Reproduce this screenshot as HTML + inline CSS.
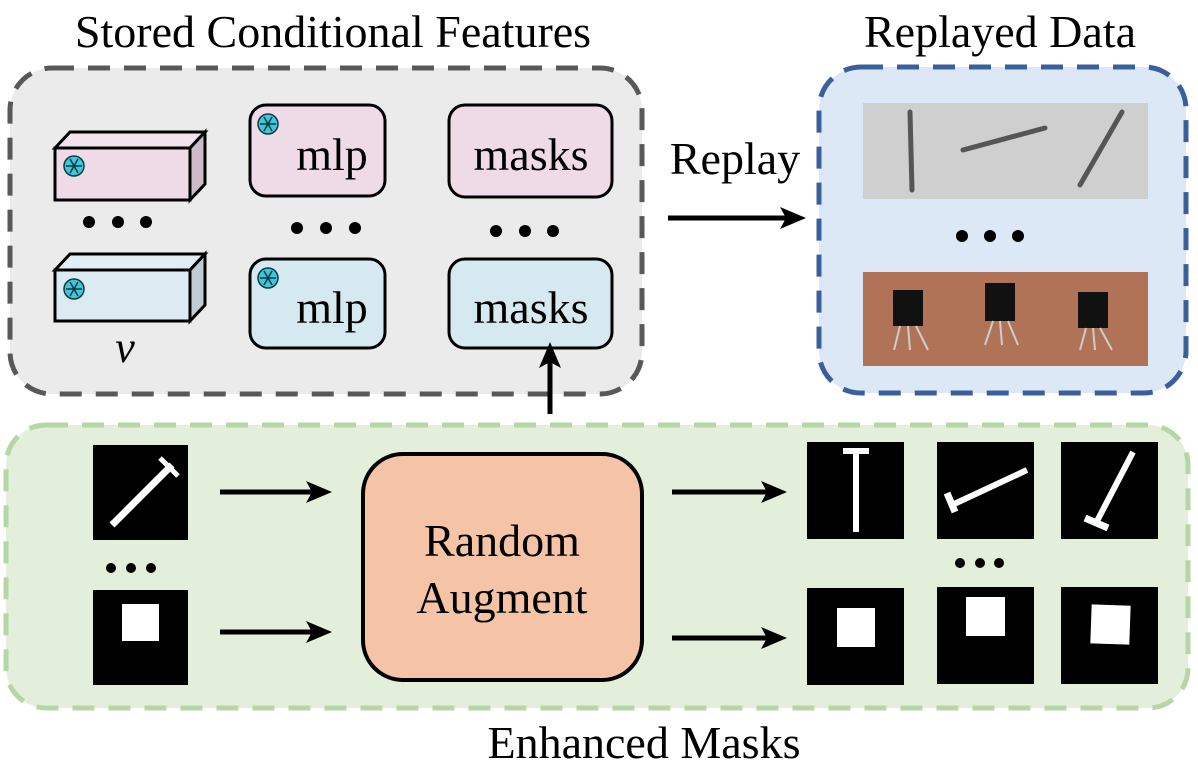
<!DOCTYPE html>
<html><head><meta charset="utf-8"><style>
html,body{margin:0;padding:0;background:#fff;}
svg{display:block;}
text{font-family:"Liberation Serif",serif;fill:#000;}
</style></head><body>
<svg width="1198" height="768" viewBox="0 0 1198 768" xmlns="http://www.w3.org/2000/svg">
<defs>
<marker id="ah" markerWidth="26" markerHeight="22" refX="20" refY="11" orient="auto" markerUnits="userSpaceOnUse">
<path d="M0,0 L26,11 L0,22 L6,11 Z" fill="#000"/></marker>
<g id="snow">
<circle r="10" fill="#3fc6d8" stroke="#0a3a44" stroke-width="1.5"/>
<g stroke="#0a3a44" stroke-width="1.5"><line x1="-8" y1="0" x2="8" y2="0"/><line x1="-4" y1="-7" x2="4" y2="7"/><line x1="4" y1="-7" x2="-4" y2="7"/></g>
</g>
</defs>
<!-- titles -->
<text x="333" y="47" font-size="46" text-anchor="middle">Stored Conditional Features</text>
<text x="1000" y="47" font-size="46" text-anchor="middle">Replayed Data</text>
<text x="644" y="758" font-size="46" text-anchor="middle">Enhanced Masks</text>

<!-- gray box -->
<rect x="10" y="68" width="632" height="326" rx="42" fill="#ecebeb" stroke="#585858" stroke-width="5" stroke-dasharray="22 14"/>
<!-- cubes -->
<g stroke="#000" stroke-width="3">
<polygon points="55,148 70,132 205,132 190,148" fill="#f3e3ee"/>
<polygon points="190,148 205,132 205,184 190,200" fill="#cdbcc8"/>
<rect x="55" y="148" width="135" height="52" fill="#efdbe8"/>
<polygon points="55,270 70,254 205,254 190,270" fill="#e2eef4"/>
<polygon points="190,270 205,254 205,305 190,321" fill="#c0ccd2"/>
<rect x="55" y="270" width="135" height="51" fill="#dcebf2"/>
</g>
<use href="#snow" x="74" y="166"/>
<use href="#snow" x="74" y="289"/>
<text x="125" y="362" font-size="44" font-style="italic" text-anchor="middle">v</text>
<!-- mlp / masks -->
<g stroke="#000" stroke-width="3">
<rect x="250" y="105" width="135" height="91" rx="16" fill="#efdbe8"/>
<rect x="250" y="259" width="135" height="89" rx="16" fill="#d6e9f1"/>
<rect x="449" y="105" width="163" height="92" rx="16" fill="#efdbe8"/>
<rect x="449" y="259" width="163" height="89" rx="16" fill="#d6e9f1"/>
</g>
<use href="#snow" x="268" y="124"/>
<use href="#snow" x="268" y="278"/>
<text x="332" y="170" font-size="46" text-anchor="middle">mlp</text>
<text x="332" y="323" font-size="46" text-anchor="middle">mlp</text>
<text x="531" y="170" font-size="46" text-anchor="middle">masks</text>
<text x="531" y="323" font-size="46" text-anchor="middle">masks</text>
<g fill="#000">
<circle cx="89" cy="222" r="6"/><circle cx="118" cy="222" r="6"/><circle cx="146" cy="222" r="6"/>
<circle cx="297" cy="228" r="6"/><circle cx="326" cy="228" r="6"/><circle cx="355" cy="228" r="6"/>
<circle cx="496" cy="231" r="6"/><circle cx="525" cy="231" r="6"/><circle cx="553" cy="231" r="6"/>
</g>
<!-- replay -->
<text x="735" y="174" font-size="46" text-anchor="middle">Replay</text>
<line x1="668" y1="218" x2="800" y2="218" stroke="#000" stroke-width="5" marker-end="url(#ah)"/>
<!-- blue box -->
<rect x="819" y="67" width="367" height="326" rx="42" fill="#dce8f5" stroke="#3a5f9a" stroke-width="5" stroke-dasharray="22 14"/>
<rect x="863" y="103" width="285" height="96" fill="#cfcfcf"/>
<g stroke="#555" stroke-width="5" stroke-linecap="round">
<line x1="910" y1="112" x2="912" y2="190"/><line x1="963" y1="150" x2="1045" y2="128"/><line x1="1080" y1="185" x2="1122" y2="112"/>
</g>
<g fill="#000"><circle cx="962" cy="236" r="6"/><circle cx="990" cy="236" r="6"/><circle cx="1018" cy="236" r="6"/></g>
<rect x="863" y="272" width="285" height="94" fill="#b07358"/>
<g fill="#111"><rect x="893" y="290" width="30" height="36"/><rect x="985" y="283" width="30" height="38"/><rect x="1078" y="292" width="30" height="36"/></g>
<g stroke="#ccc" stroke-width="2"><line x1="900" y1="326" x2="894" y2="350"/><line x1="908" y1="326" x2="910" y2="350"/><line x1="916" y1="326" x2="928" y2="350"/><line x1="993" y1="321" x2="985" y2="345"/><line x1="1000" y1="321" x2="1002" y2="345"/><line x1="1008" y1="321" x2="1018" y2="345"/><line x1="1086" y1="328" x2="1080" y2="350"/><line x1="1093" y1="328" x2="1095" y2="350"/><line x1="1100" y1="328" x2="1112" y2="350"/></g>
<!-- green box -->
<rect x="6" y="425" width="1182" height="283" rx="40" fill="#e3efdb" stroke="#b7d6a6" stroke-width="5" stroke-dasharray="22 14"/>
<line x1="550" y1="414" x2="550" y2="348" stroke="#000" stroke-width="5" marker-end="url(#ah)"/>
<!-- left masks -->
<rect x="93" y="445" width="95" height="95" fill="#000"/>
<line x1="112" y1="525" x2="172" y2="465" stroke="#fff" stroke-width="7"/>
<line x1="160" y1="458" x2="178" y2="476" stroke="#fff" stroke-width="5"/>
<g fill="#000"><circle cx="111" cy="568" r="5"/><circle cx="131" cy="568" r="5"/><circle cx="151" cy="568" r="5"/></g>
<rect x="93" y="590" width="95" height="95" fill="#000"/>
<rect x="122" y="604" width="37" height="37" fill="#fff"/>
<!-- arrows -->
<g stroke="#000" stroke-width="5">
<line x1="220" y1="492" x2="326" y2="492" marker-end="url(#ah)"/>
<line x1="220" y1="632" x2="326" y2="632" marker-end="url(#ah)"/>
<line x1="672" y1="492" x2="781" y2="492" marker-end="url(#ah)"/>
<line x1="672" y1="638" x2="781" y2="638" marker-end="url(#ah)"/>
</g>
<!-- random augment -->
<rect x="363" y="454" width="279" height="226" rx="40" fill="#f5c4a6" stroke="#000" stroke-width="4"/>
<text x="502" y="556" font-size="46" text-anchor="middle">Random</text>
<text x="502" y="613" font-size="46" text-anchor="middle">Augment</text>
<!-- right masks -->
<rect x="807" y="442" width="97" height="97" fill="#000"/>
<line x1="856" y1="452" x2="856" y2="532" stroke="#fff" stroke-width="6"/>
<line x1="843" y1="451" x2="869" y2="451" stroke="#fff" stroke-width="6"/>
<rect x="937" y="442" width="97" height="97" fill="#000"/>
<line x1="952" y1="505" x2="1027" y2="470" stroke="#fff" stroke-width="6"/>
<line x1="947" y1="493" x2="955" y2="512" stroke="#fff" stroke-width="7"/>
<rect x="1061" y="442" width="97" height="97" fill="#000"/>
<line x1="1095" y1="525" x2="1133" y2="452" stroke="#fff" stroke-width="6"/>
<line x1="1085" y1="518" x2="1108" y2="528" stroke="#fff" stroke-width="7"/>
<g fill="#000"><circle cx="960" cy="563" r="5"/><circle cx="980" cy="563" r="5"/><circle cx="999" cy="563" r="5"/></g>
<rect x="807" y="588" width="97" height="97" fill="#000"/>
<rect x="837" y="608" width="38" height="39" fill="#fff"/>
<rect x="937" y="587" width="97" height="97" fill="#000"/>
<rect x="966" y="597" width="39" height="39" fill="#fff"/>
<rect x="1061" y="587" width="97" height="97" fill="#000"/>
<rect x="1091" y="605" width="39" height="39" fill="#fff" transform="rotate(2 1110 624)"/>
</svg>
</body></html>
